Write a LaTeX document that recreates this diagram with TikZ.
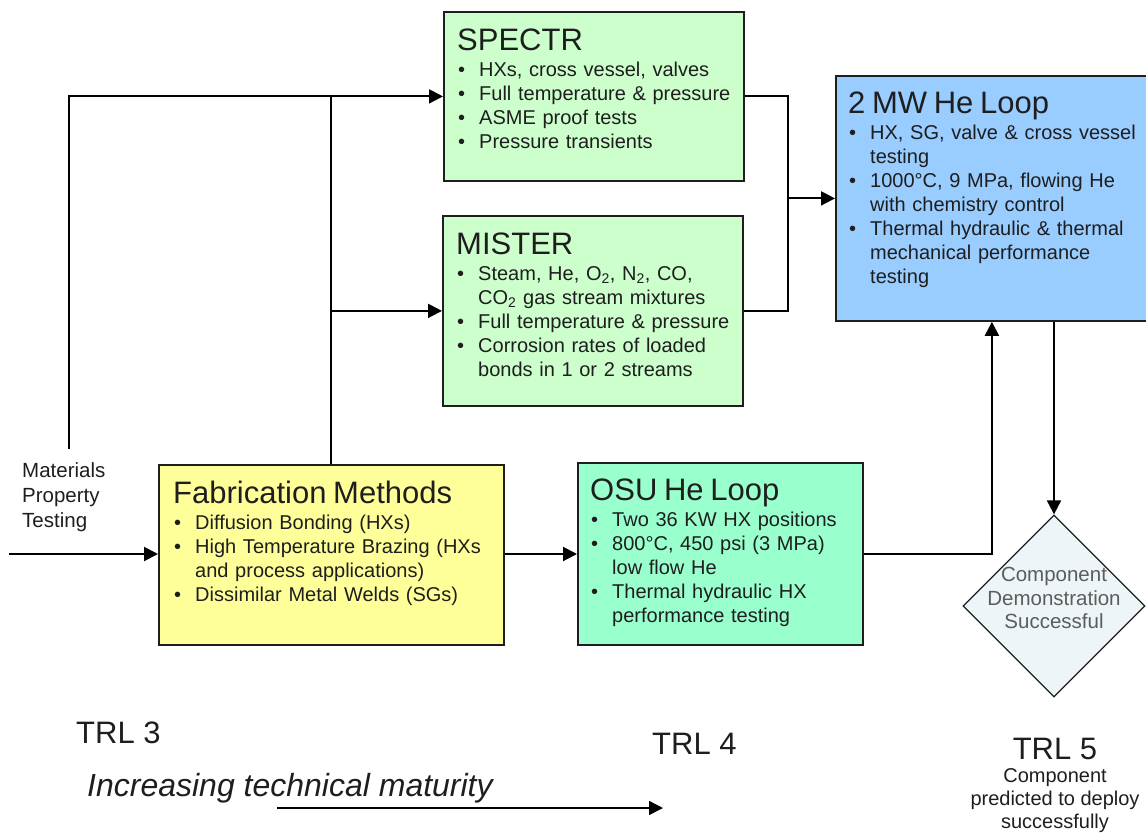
\documentclass[tikz,border=0pt]{standalone}
\usepackage{fontspec}
\setmainfont{Liberation Sans}
\usepackage{enumitem}
\usetikzlibrary{calc,arrows.meta,shapes.geometric}

\definecolor{spectrgreen}{HTML}{CCFFCC}
\definecolor{loopblue}{HTML}{99CCFF}
\definecolor{fabyellow}{HTML}{FFFF99}
\definecolor{osugreen}{HTML}{99FFCC}
\definecolor{decidefill}{HTML}{EDF5F8}
\definecolor{inkgray}{HTML}{1E1E1E}
\definecolor{decidegray}{HTML}{5C5C5C}

\newcommand{\boxhead}[1]{{\fontsize{31}{34}\selectfont #1\par}\vskip2pt}
\setlist[itemize]{label=\textbullet, leftmargin=22pt, labelwidth=8pt, labelsep=14pt, itemsep=0pt, topsep=0pt, parsep=0pt, partopsep=0pt}

\tikzset{
	testbox/.style={draw=inkgray, line width=1.8pt, anchor=north west, inner sep=0pt},
	boxtext/.style={anchor=north west, inner sep=0pt, text width=340pt, align=left, text=inkgray, font=\fontsize{20}{24}\selectfont},
	wire/.style={line width=2pt, draw=black},
	conn/.style={wire, -{Triangle[length=14pt,width=14pt]}},
	trl/.style={inner sep=0pt, text=inkgray, font=\fontsize{31}{34}\selectfont},
}

\begin{document}
\begin{tikzpicture}[x=1pt,y=-1pt]
			%%%%% START %%%%%
			\useasboundingbox (0,0) rectangle (1146,833);
			
			% test facilities
			\node[testbox, fill=spectrgreen, minimum width=300pt, minimum height=169pt] (spectr) at (443,11) {};
			\node[testbox, fill=spectrgreen, minimum width=300pt, minimum height=190pt] (mister) at (442,215) {};
			\node[testbox, fill=loopblue, minimum width=312pt, minimum height=245pt] (heloop) at (835,75) {};
			\node[testbox, fill=fabyellow, minimum width=345pt, minimum height=180pt] (fab) at (158,464) {};
			\node[testbox, fill=osugreen, minimum width=285pt, minimum height=182pt] (osu) at (577,462) {};
			\node[diamond, draw=inkgray, line width=1.3pt, fill=decidefill, minimum width=182pt, minimum height=182pt, inner sep=0pt] (decide) at (1054,606) {};
			
			\node[boxtext] (spectrtxt) at ($(spectr.north west)+(14,18)$) {\boxhead{SPECTR}
				\begin{itemize}
					\item HXs, cross vessel, valves
					\item Full temperature \& pressure
					\item ASME proof tests
					\item Pressure transients
				\end{itemize}};
			
			\node[boxtext] (mistertxt) at ($(mister.north west)+(14,18)$) {\boxhead{MISTER}
				\begin{itemize}
					\item Steam, He, O\textsubscript{2}, N\textsubscript{2}, CO,\newline CO\textsubscript{2} gas stream mixtures
					\item Full temperature \& pressure
					\item Corrosion rates of loaded\newline bonds in 1 or 2 streams
				\end{itemize}};
			
			\node[boxtext] (helooptxt) at ($(heloop.north west)+(13,17)$) {\boxhead{2 MW He Loop}
				\begin{itemize}
					\item HX, SG, valve \& cross vessel\newline testing
					\item 1000\textdegree C, 9 MPa, flowing He\newline with chemistry control
					\item Thermal hydraulic \& thermal\newline mechanical performance\newline testing
				\end{itemize}};
			
			\node[boxtext] (fabtxt) at ($(fab.north west)+(15,17)$) {\boxhead{Fabrication Methods}
				\begin{itemize}
					\item Diffusion Bonding (HXs)
					\item High Temperature Brazing (HXs\newline and process applications)
					\item Dissimilar Metal Welds (SGs)
				\end{itemize}};
			
			\node[boxtext] (osutxt) at ($(osu.north west)+(13,17)$) {\boxhead{OSU He Loop}
				\begin{itemize}
					\item Two 36 KW HX positions
					\item 800\textdegree C, 450 psi (3 MPa)\newline low flow He
					\item Thermal hydraulic HX\newline performance testing
				\end{itemize}};
			
			\node[align=center, inner sep=0pt, text=decidegray, font=\fontsize{20.5}{23.5}\selectfont] (decidetxt) at (1054,598) {Component\\Demonstration\\Successful};
			
			% materials testing input
			\node[anchor=north west, align=left, inner sep=0pt, text=inkgray, font=\fontsize{20.5}{25}\selectfont] (mattxt) at (22,462) {Materials\\Property\\Testing};
			\coordinate (mpt) at (69,449);
			\coordinate (feed) at (9,554);
			\coordinate (join) at ($(heloop.west)+(-47,0)$);
			
			\draw[conn] (mpt) |- (spectr.west);
			\draw[wire] (fab.north) -- (fab.north |- spectr.west);
			\draw[conn] (fab.north |- mister.west) -- (mister.west);
			\draw[conn] (feed) -- (feed -| fab.west);
			\draw[conn] (fab.east |- feed) -- (osu.west |- feed);
			\draw[wire] (spectr.east) -| (join) |- (mister.east);
			\draw[conn] (join) -- (heloop.west);
			\draw[conn] (osu.east |- feed) -| (heloop.south);
			\draw[conn] (decide.north |- heloop.south) -- (decide.north);
			
			% maturity scale
			\node[trl, anchor=base west] (trl3) at (76,743) {TRL 3};
			\node[trl, anchor=base west] (trl4) at (652,754) {TRL 4};
			\node[trl, anchor=base] (trl5) at (1055,759) {TRL 5};
			\node[anchor=north, align=center, inner sep=0pt, text=inkgray, font=\fontsize{20}{23}\selectfont] (trl5txt) at (1055,768) {Component\\predicted to deploy\\successfully};
			\node[anchor=base west, inner sep=0pt, text=inkgray, font=\fontsize{32}{36}\selectfont\itshape] (maturity) at (87,796) {Increasing technical maturity};
			
			\coordinate (grow0) at (277,808);
			\coordinate (grow1) at (663,808);
			\draw[conn, line width=1.5pt] (grow0) -- (grow1);
			
			%%%%% END %%%%%
\end{tikzpicture}
\end{document}
